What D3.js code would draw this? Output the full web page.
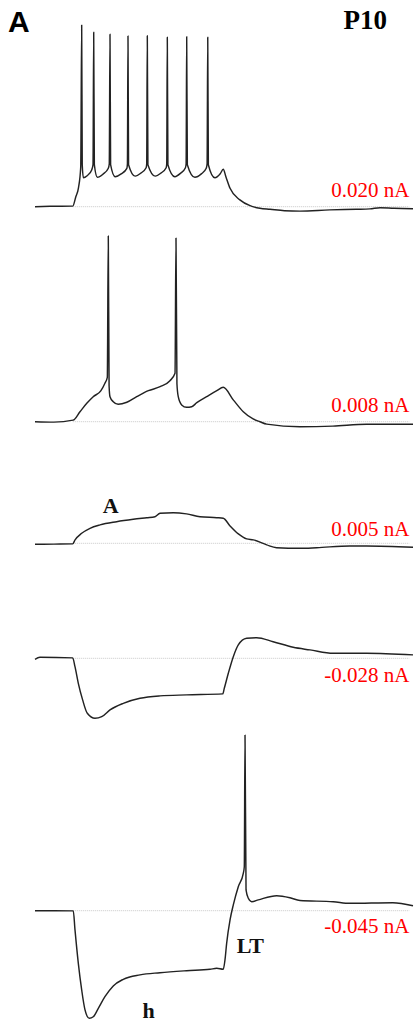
<!DOCTYPE html>
<html>
<head>
<meta charset="utf-8">
<script src="https://cdn.jsdelivr.net/npm/d3@7"></script>
<style>
  html, body { margin: 0; padding: 0; background: #ffffff; }
  svg { display: block; }
</style>
</head>
<body>
<div id="chart"></div>
<script>
// ---- Data: time (ms) vs membrane potential (mV) ----
const currentLabels = ["0.020 nA", "0.008 nA", "0.005 nA", "-0.028 nA", "-0.045 nA"];
const restMv = -65;
const stepStartMs = 100;
const timeDomain = [0, 1000];

const trace1 = [
  [0,-65],[40,-64.8],[100,-64.7],[108,-60],[115,-55.6],[121,-45],[123.5,25.8],[125,-44],[128,-50.5],[138,-49.5],
  [150,-46.6],[153.5,-44],[155.3,22.2],[157,-44],[165,-50.3],[180,-48.7],[194,-45.8],[196.5,-43.5],[198.4,21.2],
  [200,-44],[212,-50],[228,-48.6],[243,-45.8],[244.5,-43.5],[246,20.4],[247.5,-44],[265,-49.7],[280,-48.2],
  [294,-45.5],[295.5,-43.5],[297.1,20.5],[298.7,-44],[318,-49.7],[333,-48.2],[347,-45.5],[348.5,-43.5],[350,19.7],
  [351.6,-44],[370,-50],[385,-48.3],[398,-45.5],[399.8,-43.5],[401.3,20],[403,-44],[423,-50.3],[440,-48.6],
  [453,-45.8],[455.3,-43.5],[457,19.7],[458.6,-44],[476,-50.5],[490,-48.5],[498,-46.3],[505,-50],[516,-55.8],
  [542,-61.6],[569,-64.5],[595,-65.8],[622,-66.3],[660,-67],[701,-67.2],[780,-66.6],[850,-66.3],[886,-66.1],
  [913,-65.5],[950,-65.8],[1000,-66]
];
const trace2 = [
  [0,-65],[50,-65.2],[101,-64.2],[119,-60],[137,-55.8],[154,-52.5],[174,-49.6],[185,-45.8],[191.3,-42.8],
  [193.9,27.8],[196,-47],[198.4,-52.5],[207,-55],[220,-56.3],[243,-55.3],[269,-52.5],[300,-49.5],[331,-47.5],
  [357,-44.5],[370.4,-40.8],[373,26.8],[375.5,-46],[379,-52.5],[388,-56.6],[401,-57.8],[414.5,-57.5],
  [428,-55.5],[454,-52.5],[481,-49.5],[498,-47.8],[525,-54.2],[551,-60],[577,-63.6],[595,-65],[613,-66.2],
  [701,-67.5],[788,-67.2],[877,-66.3],[1000,-66.3]
];
const trace3 = [
  [0,-65.5],[50,-65.4],[99.7,-65.3],[106,-63.3],[123.5,-60],[145.5,-57.5],[172,-55.8],[216,-54.2],[260,-53],
  [295.5,-52.2],[317.5,-51.7],[330.7,-50],[366,-49.7],[401,-50.3],[436.5,-51.7],[480.7,-52.2],[498,-52.5],
  [516,-56.3],[538,-60.3],[560,-62.8],[577.5,-63.3],[613,-65.8],[639,-67.2],[701,-67.5],[745,-67.2],
  [833,-66.3],[877,-66.3],[1000,-67]
];
const trace4 = [
  [0,-65.5],[13,-64.5],[99.7,-64.8],[105.8,-69.2],[114.6,-77.5],[126,-85.8],[138.4,-92.5],[158.7,-95],
  [176.5,-94.2],[198.4,-90.8],[233.6,-87.5],[277.8,-85],[330.7,-83.8],[401,-83.3],[496.6,-82.8],[500.8,-80],
  [511.4,-72.5],[524.6,-64.2],[537.8,-58.3],[560,-55],[586.5,-54.7],[630,-56.7],[683,-59.5],[727.5,-60.8],
  [789,-62.5],[877,-62.5],[1000,-63.3]
];
const trace5 = [
  [0,-65],[50,-65],[101.3,-65.1],[105.8,-74.6],[114.6,-91.3],[123.5,-104.6],[132.3,-114.6],[143.6,-118.8],
  [154.2,-118],[167.5,-113.8],[185,-108],[207,-102.6],[233.6,-99.3],[277.8,-97.1],[330.7,-96],[401,-95],
  [463,-94.3],[480.7,-93.8],[498,-94.3],[502.6,-89.6],[507,-81.3],[516,-69.6],[524.6,-62.1],[537.8,-53],
  [551,-46.3],[553.7,-43],[555.6,22.8],[558.3,-54.6],[564.4,-58.8],[573.3,-60.5],[590.7,-59.6],[639.4,-57.5],
  [674.6,-58.5],[701,-59.9],[789,-60.5],[833,-61.3],[946.6,-61],[1000,-62.5]
];
const traces = [trace1, trace2, trace3, trace4, trace5];

// ---- Layout ----
const W = 415, H = 1027;
const panelBaselineY = [206.7, 421.7, 543.3, 658.3, 910.7];
const labelBaselineY = [196.7, 412.3, 536, 681.7, 933];
const pxPerMv = 2;

const svg = d3.select("#chart").append("svg")
  .attr("width", W).attr("height", H)
  .attr("viewBox", `0 0 ${W} ${H}`);
svg.append("rect").attr("width", W).attr("height", H).attr("fill", "#fff");

const x = d3.scaleLinear().domain(timeDomain).range([35, 413]);

traces.forEach((tr, i) => {
  const y0 = panelBaselineY[i];
  const y = d3.scaleLinear().domain([restMv, restMv + 100]).range([y0, y0 - 100 * pxPerMv]);
  const g = svg.append("g").attr("class", "panel");

  g.append("line")
    .attr("x1", x(stepStartMs)).attr("x2", x(990))
    .attr("y1", y(restMv)).attr("y2", y(restMv))
    .attr("stroke", "#c8c8c8").attr("stroke-width", 1)
    .attr("stroke-dasharray", "1,1");

  const line = d3.line()
    .x(d => x(d[0])).y(d => y(d[1]))
    .curve(d3.curveMonotoneX);

  g.append("path")
    .datum(tr)
    .attr("d", line)
    .attr("fill", "none")
    .attr("stroke", "#222")
    .attr("stroke-width", 1.45)
    .attr("stroke-linejoin", "round");

  g.append("text")
    .attr("x", 409.5).attr("y", labelBaselineY[i])
    .attr("text-anchor", "end")
    .attr("font-family", "'Liberation Serif', 'Times New Roman', serif")
    .attr("font-size", 21)
    .attr("fill", "#ff0000")
    .text(currentLabels[i]);
});

svg.append("text")
  .attr("x", 8).attr("y", 32)
  .attr("font-family", "'Liberation Sans', Arial, sans-serif")
  .attr("font-weight", "bold").attr("font-size", 30)
  .attr("fill", "#000").text("A");

svg.append("text")
  .attr("x", 387).attr("y", 28.5)
  .attr("text-anchor", "end")
  .attr("font-family", "'Liberation Serif', 'Times New Roman', serif")
  .attr("font-weight", "bold").attr("font-size", 27)
  .attr("fill", "#000").text("P10");

const annotations = [
  { text: "A", x: 102.7, y: 512.7 },
  { text: "LT", x: 236.7, y: 953.3 },
  { text: "h", x: 142.5, y: 1018.3 }
];
svg.selectAll("text.annot").data(annotations).enter().append("text")
  .attr("class", "annot")
  .attr("x", d => d.x).attr("y", d => d.y)
  .attr("font-family", "'Liberation Serif', 'Times New Roman', serif")
  .attr("font-weight", "bold").attr("font-size", 22)
  .attr("fill", "#111").text(d => d.text);
</script>
</body>
</html>
